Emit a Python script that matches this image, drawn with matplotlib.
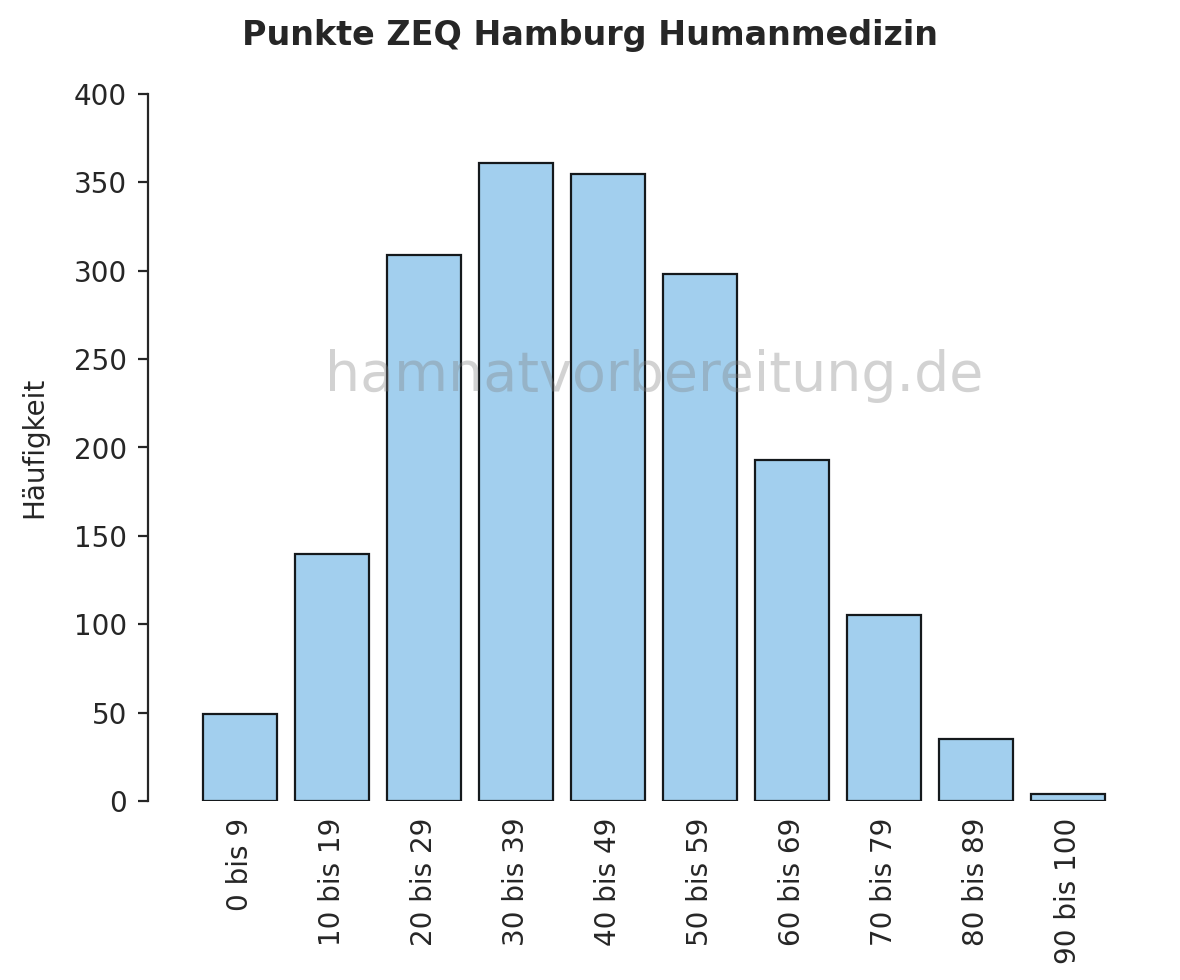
import matplotlib
matplotlib.use("Agg")
import matplotlib.pyplot as plt

categories = ["0 bis 9", "10 bis 19", "20 bis 29", "30 bis 39", "40 bis 49",
              "50 bis 59", "60 bis 69", "70 bis 79", "80 bis 89", "90 bis 100"]
counts = [49, 140, 309, 361, 355, 298, 193, 105, 35, 4]
yticks = [0, 50, 100, 150, 200, 250, 300, 350, 400]

plt.rcParams['font.family'] = ['DejaVu Sans']
W, H = 1180, 980
fig = plt.figure(figsize=(W / 200, H / 200), dpi=200)
ax = fig.add_axes([148 / W, 1 - 801 / H, (1114 - 148) / W, (801 - 94) / H])

x = list(range(len(categories)))
ax.bar(x, counts, width=0.8, color='#a2cfee', edgecolor='#15191c', linewidth=0.8, zorder=2)
ax.set_xlim(-1.0, 9.5)
ax.set_ylim(0, 400)
ax.set_yticks(yticks)
ax.set_xticks(x)
ax.set_xticklabels(categories, rotation=90, fontsize=10, color='#262626')
ax.tick_params(axis='y', labelsize=10, colors='#262626', length=3.6, width=0.8, pad=4)
ax.tick_params(axis='x', length=0, pad=6)
for s in ['top', 'right', 'bottom']:
    ax.spines[s].set_visible(False)
ax.spines['left'].set_color('#262626')
ax.spines['left'].set_linewidth(0.8)
ax.set_ylabel("Häufigkeit", fontsize=10, color='#262626', labelpad=9)

fig.text(0.5, 1 - 35 / H, "Punkte ZEQ Hamburg Humanmedizin", ha='center', va='center',
         fontsize=12, fontweight='bold', color='#262626')
fig.text(654 / W, 1 - 376 / H, "hamnatvorbereitung.de", ha='center', va='center',
         fontsize=20, color='gray', alpha=0.35, zorder=10)

fig.savefig("out.png", dpi=200)
